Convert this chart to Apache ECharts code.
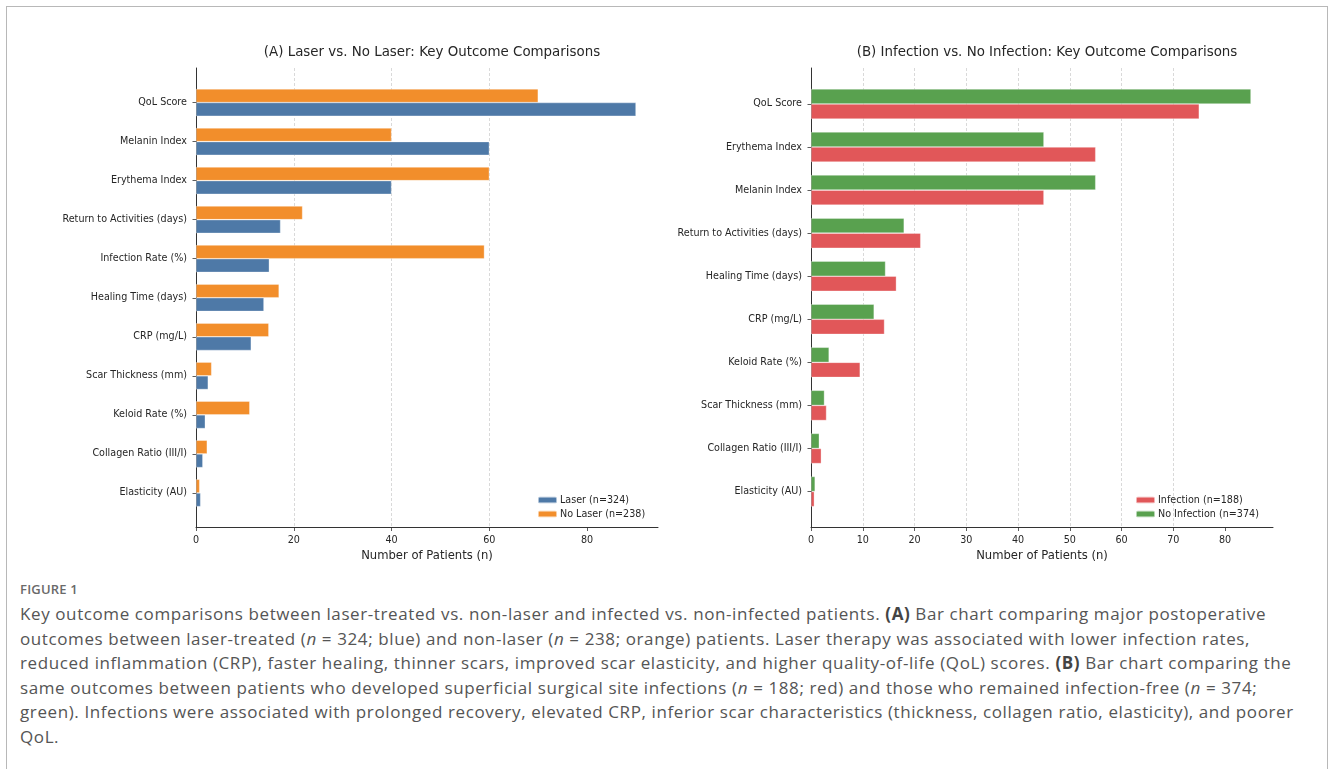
<!DOCTYPE html>
<html>
<head>
<meta charset="utf-8">
<title>Key outcome comparisons</title>
<script src="https://cdn.jsdelivr.net/npm/echarts@6/dist/echarts.min.js"></script>
<style>
  html, body { margin: 0; padding: 0; background: #fff; }
  #page { position: relative; width: 1330px; height: 769px; overflow: hidden; background: #fff; }
  #chart { position: absolute; left: 0; top: 0; width: 1330px; height: 570px; }
  #frame { position: absolute; left: 6px; top: 6px; width: 1322px; height: 780px;
           border: 1.5px solid #b8b8b8; box-sizing: border-box; pointer-events: none; z-index: 2; }
  #figlabel { position: absolute; left: 20px; top: 580px; font-family: "Open Sans", sans-serif;
              font-size: 13px; font-weight: 600; color: #6a6a6a; letter-spacing: 0.2px; }
  #caption { position: absolute; left: 20px; top: 602px; font-family: "Open Sans", sans-serif;
             font-size: 17px; line-height: 24.6px; color: #555; white-space: nowrap; letter-spacing: 0.6px; }
  #caption b { font-weight: 700; color: #444; }
</style>
</head>
<body>
<div id="page">
  <div id="chart"></div>
  <div id="frame"></div>
  <div id="figlabel">FIGURE 1</div>
  <div id="caption">
    Key outcome comparisons between laser-treated vs. non-laser and infected vs. non-infected patients. <b>(A)</b> Bar chart comparing major postoperative<br>
    outcomes between laser-treated (<i>n</i> = 324; blue) and non-laser (<i>n</i> = 238; orange) patients. Laser therapy was associated with lower infection rates,<br>
    reduced inflammation (CRP), faster healing, thinner scars, improved scar elasticity, and higher quality-of-life (QoL) scores. <b>(B)</b> Bar chart comparing the<br>
    same outcomes between patients who developed superficial surgical site infections (<i>n</i> = 188; red) and those who remained infection-free (<i>n</i> = 374;<br>
    green). Infections were associated with prolonged recovery, elevated CRP, inferior scar characteristics (thickness, collagen ratio, elasticity), and poorer<br>
    QoL.
  </div>
</div>
<script>
// Panel A: laser vs. no laser
const categoriesA = ['QoL Score', 'Melanin Index', 'Erythema Index', 'Return to Activities (days)',
  'Infection Rate (%)', 'Healing Time (days)', 'CRP (mg/L)', 'Scar Thickness (mm)',
  'Keloid Rate (%)', 'Collagen Ratio (III/I)', 'Elasticity (AU)'];
const laser   = [90, 60, 40, 17.3, 15.0, 13.9, 11.3, 2.5, 1.9, 1.4, 0.95];
const noLaser = [70, 40, 60, 21.8, 59.0, 17.0, 14.9, 3.2, 11.0, 2.3, 0.75];
const ticksA = [0, 20, 40, 60, 80];
const maxA = 94.5;

// Panel B: infection vs. no infection
const categoriesB = ['QoL Score', 'Erythema Index', 'Melanin Index', 'Return to Activities (days)',
  'Healing Time (days)', 'CRP (mg/L)', 'Keloid Rate (%)', 'Scar Thickness (mm)',
  'Collagen Ratio (III/I)', 'Elasticity (AU)'];
const infection   = [75, 55, 45, 21.2, 16.5, 14.2, 9.5, 3.0, 2.0, 0.65];
const noInfection = [85, 45, 55, 18.0, 14.4, 12.2, 3.5, 2.6, 1.6, 0.8];
const ticksB = [0, 10, 20, 30, 40, 50, 60, 70, 80];
const maxB = 89.25;

const FONT = 'DejaVu Sans';
const TXT = '#262626';
const AXIS = '#333333';
const COLORS = { laser: '#4e79a7', noLaser: '#f28e2b', infection: '#e15759', noInfection: '#59a14f' };

// frame grids carry the spines, x ticks and dashed gridlines; bar grids carry the category axis
const PLOT_TOP = 68, PLOT_H = 459.5, PLOT_W = 462;
const leftA = 196, leftB = 811;

function frameX(gridIndex, max, ticks) {
  return {
    type: 'value', gridIndex, min: 0, max,
    name: 'Number of Patients (n)', nameLocation: 'middle', nameGap: 22,
    nameTextStyle: { fontFamily: FONT, fontSize: 11.6, color: TXT },
    axisLine: { show: true, lineStyle: { color: AXIS, width: 1 } },
    axisTick: { show: true, length: 3.5, lineStyle: { color: AXIS, width: 0.8 }, customValues: ticks },
    axisLabel: { show: true, fontFamily: FONT, fontSize: 9.6, color: TXT, margin: 8, customValues: ticks },
    splitLine: { show: true, showMinLine: false, showMaxLine: false,
      lineStyle: { color: '#cfcfcf', width: 0.8, type: [3, 2] } }
  };
}
function frameY(gridIndex) {
  return {
    type: 'value', gridIndex, min: 0, max: 1,
    axisLine: { show: true, lineStyle: { color: AXIS, width: 1 } },
    axisTick: { show: false }, axisLabel: { show: false }, splitLine: { show: false }
  };
}
function barX(gridIndex, max) {
  return { type: 'value', gridIndex, min: 0, max, show: false, splitLine: { show: false } };
}
function barY(gridIndex, cats) {
  return {
    type: 'category', gridIndex, data: cats, inverse: true,
    axisLine: { show: false },
    axisTick: { show: true, alignWithLabel: true, length: 3.5, lineStyle: { color: AXIS, width: 0.8 } },
    axisLabel: { fontFamily: FONT, fontSize: 9.6, color: TXT, margin: 9 },
    splitLine: { show: false }
  };
}
function bars(name, data, color, xi, yi) {
  return {
    type: 'bar', name, data, xAxisIndex: xi, yAxisIndex: yi,
    barGap: '0%', barCategoryGap: '30%',
    itemStyle: { color, borderColor: 'rgba(255,255,255,0.55)', borderWidth: 0.6 },
    emphasis: { disabled: true }, animation: false
  };
}

// each band: axis range spans (n-1) + 0.7 of bar thickness, plus 5% padding on both ends
function bandLayout(n) {
  const span = (n - 1 + 0.7) * 1.1;
  const px = PLOT_H / span;
  const first = PLOT_TOP + (0.35 + 0.05 * (n - 1 + 0.7)) * px;
  return { top: first - px / 2, height: px * n };
}
const layA = bandLayout(categoriesA.length);
const layB = bandLayout(categoriesB.length);

const legendText = { fontFamily: FONT, fontSize: 9.6, color: TXT, lineHeight: 12, padding: [0, 0, 0, -2] };

const option = {
  backgroundColor: 'transparent',
  animation: false,
  title: [
    { text: '(A) Laser vs. No Laser: Key Outcome Comparisons', left: leftA + PLOT_W / 2, top: 41, textAlign: 'center',
      textStyle: { fontFamily: FONT, fontSize: 13.4, fontWeight: 'normal', color: TXT } },
    { text: '(B) Infection vs. No Infection: Key Outcome Comparisons', left: leftB + PLOT_W / 2, top: 41, textAlign: 'center',
      textStyle: { fontFamily: FONT, fontSize: 13.4, fontWeight: 'normal', color: TXT } }
  ],
  legend: [
    { data: ['Laser (n=324)', 'No Laser (n=238)'], orient: 'vertical', left: 537, top: 494,
      itemWidth: 19, itemHeight: 6.7, itemGap: 2, padding: 0, selectedMode: false, textStyle: legendText },
    { data: ['Infection (n=188)', 'No Infection (n=374)'], orient: 'vertical', left: 1135, top: 494,
      itemWidth: 19, itemHeight: 6.7, itemGap: 2, padding: 0, selectedMode: false, textStyle: legendText }
  ],
  grid: [
    { left: leftA, top: PLOT_TOP, width: PLOT_W, height: PLOT_H },
    { left: leftA, top: layA.top, width: PLOT_W, height: layA.height },
    { left: leftB, top: PLOT_TOP, width: PLOT_W, height: PLOT_H },
    { left: leftB, top: layB.top, width: PLOT_W, height: layB.height }
  ],
  xAxis: [frameX(0, maxA, ticksA), barX(1, maxA), frameX(2, maxB, ticksB), barX(3, maxB)],
  yAxis: [frameY(0), barY(1, categoriesA), frameY(2), barY(3, categoriesB)],
  // within each band the first series sits on top
  series: [
    bars('No Laser (n=238)', noLaser, COLORS.noLaser, 1, 1),
    bars('Laser (n=324)', laser, COLORS.laser, 1, 1),
    bars('No Infection (n=374)', noInfection, COLORS.noInfection, 3, 3),
    bars('Infection (n=188)', infection, COLORS.infection, 3, 3)
  ]
};

const chart = echarts.init(document.getElementById('chart'), null, { renderer: 'canvas' });
chart.setOption(option);
</script>
</body>
</html>
